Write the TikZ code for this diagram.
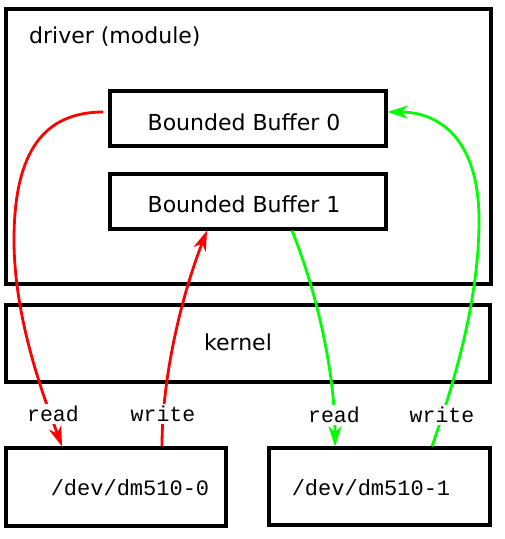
\documentclass[tikz,border=0pt]{standalone}
\usepackage{fontspec}
\setmainfont{DejaVu Sans}
\newfontfamily\monofnt{Liberation Mono}
\usetikzlibrary{arrows.meta}
\definecolor{rd}{RGB}{255,0,0}
\definecolor{gr}{RGB}{0,255,0}
\begin{document}
\begin{tikzpicture}[x=1pt,y=-1pt,
  box/.style={draw=black,line width=3.2pt,rectangle,inner sep=0pt},
  txt/.style={font=\fontsize{22}{26}\selectfont,inner sep=0pt},
  mono/.style={font=\fontsize{22}{26}\selectfont\monofnt,inner sep=0pt},
  lbl/.style={font=\fontsize{21.5}{26}\selectfont\monofnt,fill=white,inner sep=2pt},
  conn/.style={line width=2.8pt,-{Stealth[length=20pt,width=13pt,inset=6pt]}}]
\useasboundingbox (0,0) rectangle (505,539);
\node[box,minimum width=485,minimum height=275] (drv) at (248.5,146.5) {};
\node[txt,anchor=base west] (drvl) at (29,43) {driver (module)};
\node[box,minimum width=276,minimum height=55] (bb0) at (248,118.5) {};
\node[txt] (bb0l) at (244,122) {Bounded Buffer 0};
\node[box,minimum width=276,minimum height=55] (bb1) at (248,201.5) {};
\node[txt] (bb1l) at (244,204) {Bounded Buffer 1};
\node[box,minimum width=484,minimum height=77] (krn) at (248,343.5) {};
\node[txt] (krnl) at (238,342) {kernel};
\node[box,minimum width=220,minimum height=78] (dm0) at (116,487) {};
\node[mono] (dm0l) at (130,488) {/dev/dm510-0};
\node[box,minimum width=221,minimum height=77] (dm1) at (379.5,486.5) {};
\node[mono] (dm1l) at (371,488) {/dev/dm510-1};
% connectors
\draw[conn,color=rd] ([xshift=-5pt,yshift=6.5pt]bb0.west) .. controls (45,112) and (14,150) .. (14,240)
  .. controls (14,320) and (45,400) .. ([xshift=-54pt]dm0.north);
\draw[conn,color=rd] ([xshift=46pt]dm0.north) .. controls (162,380) and (180,300) .. ([xshift=-41pt]bb1.south);
\draw[conn,color=gr] ([xshift=44pt]bb1.south) .. controls (320,300) and (335,380) .. ([xshift=-44.5pt]dm1.north);
\draw[conn,color=gr] ([xshift=52.5pt]dm1.north) .. controls (455,380) and (479,300) .. (479,220)
  .. controls (479,140) and (440,112) .. ([yshift=6.5pt]bb0.east);
% labels
\node[lbl] (r0) at (53,414) {read};
\node[lbl] (w0) at (163,414) {write};
\node[lbl] (r1) at (334,415) {read};
\node[lbl] (w1) at (442,415) {write};
\end{tikzpicture}
\end{document}
